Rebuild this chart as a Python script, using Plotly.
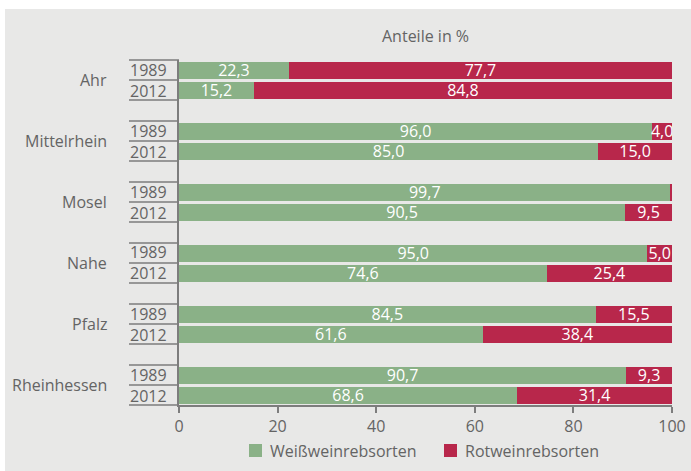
import plotly.graph_objects as go

regions = ["Ahr", "Mittelrhein", "Mosel", "Nahe", "Pfalz", "Rheinhessen"]
years = ["1989", "2012"]
weiss_1989 = [22.3, 96.0, 99.7, 95.0, 84.5, 90.7]
weiss_2012 = [15.2, 85.0, 90.5, 74.6, 61.6, 68.6]
rot_1989 = [77.7, 4.0, 0.3, 5.0, 15.5, 9.3]
rot_2012 = [84.8, 15.0, 9.5, 25.4, 38.4, 31.4]
series_names = ["Weißweinrebsorten", "Rotweinrebsorten"]
x_ticks = [0, 20, 40, 60, 80, 100]

GREEN = "#8ab187"
RED = "#b8274b"
BG = "#e8e8e7"
TXT = "#646464"
LINE = "#7d7d7d"
FONT = "Open Sans"

GROUP = 3.05
YMAX = GROUP * (len(regions) - 1) + 2

ys, w_vals, r_vals = [], [], []
for g in range(len(regions)):
    for j, (wv, rv) in enumerate([(weiss_1989[g], rot_1989[g]), (weiss_2012[g], rot_2012[g])]):
        ys.append(g * GROUP + j + 0.5)
        w_vals.append(wv)
        r_vals.append(rv)

def fmt(v):
    return ("%.1f" % v).replace(".", ",") if v >= 1 else ""

fig = go.Figure()
for name, vals, col in [(series_names[0], w_vals, GREEN), (series_names[1], r_vals, RED)]:
    fig.add_trace(go.Bar(
        name=name, y=ys, x=vals, orientation="h", width=0.85, showlegend=False,
        marker=dict(color=col, line=dict(width=0)),
        text=[fmt(v) for v in vals], textposition="inside", insidetextanchor="middle",
        textangle=0, constraintext="none",
        textfont=dict(color="white", size=16, family=FONT),
    ))

# the page body margin is set to 0 (post_script); positions below are window pixels
W, H = 691, 471
L, T = 179, 60
R, B = W - 672, H - 405
pw, ph = W - L - R, H - T - B

def px2paper_x(px):
    return (px - L) / pw

def px2paper_y(py):
    return (H - B - py) / ph

def yval2paper(v):
    return (YMAX - v) / YMAX

shapes = [dict(type="rect", xref="paper", yref="paper", layer="below",
               x0=px2paper_x(5), x1=px2paper_x(W + 10), y0=px2paper_y(H + 10), y1=px2paper_y(9),
               fillcolor=BG, line=dict(width=0))]
annotations = []
for g, reg in enumerate(regions):
    for k in range(3):
        yy = yval2paper(g * GROUP + k)
        shapes.append(dict(type="line", xref="paper", yref="paper",
                           x0=px2paper_x(129), x1=0, y0=yy, y1=yy,
                           line=dict(color=LINE, width=1.5)))
    annotations.append(dict(xref="paper", yref="paper", x=px2paper_x(169),
                            y=yval2paper(g * GROUP + 1), text="<br>".join(years),
                            showarrow=False, xanchor="right", yanchor="middle", align="right",
                            font=dict(size=16, color=TXT, family=FONT)))
    annotations.append(dict(xref="paper", yref="paper", x=px2paper_x(109),
                            y=yval2paper(g * GROUP + 1), text=reg, showarrow=False,
                            xanchor="right", yanchor="middle",
                            font=dict(size=16, color=TXT, family=FONT)))
annotations.append(dict(xref="x", yref="paper", x=50, y=px2paper_y(36), text="Anteile in %",
                        showarrow=False, xanchor="center", yanchor="middle",
                        font=dict(size=16, color=TXT, family=FONT)))

# legend (drawn as squares + labels)
for name, col, sq_x in [(series_names[0], GREEN, 249), (series_names[1], RED, 444)]:
    shapes.append(dict(type="rect", xref="paper", yref="paper",
                       x0=px2paper_x(sq_x), x1=px2paper_x(sq_x + 13),
                       y0=px2paper_y(457), y1=px2paper_y(444),
                       fillcolor=col, line=dict(width=0)))
    annotations.append(dict(xref="paper", yref="paper", x=px2paper_x(sq_x + 19),
                            y=px2paper_y(450.5), text=name, showarrow=False,
                            xanchor="left", yanchor="middle",
                            font=dict(size=16, color=TXT, family=FONT)))

fig.update_layout(
    width=W, height=H, barmode="stack",
    margin=dict(l=L, r=R, t=T, b=B, pad=0, autoexpand=False),
    paper_bgcolor="white", plot_bgcolor=BG,
    font=dict(family=FONT, size=16, color=TXT),
    showlegend=False,
    shapes=shapes, annotations=annotations,
    xaxis=dict(range=[0, 100], tickvals=x_ticks, ticktext=[str(t) for t in x_ticks],
               showgrid=False, zeroline=False, showline=True, linecolor=LINE, linewidth=1.5,
               ticks="outside", ticklen=6, tickcolor=LINE, tickwidth=1.5, automargin=False,
               ticklabeloverflow="allow",
               tickfont=dict(size=16, color=TXT, family=FONT)),
    yaxis=dict(range=[YMAX, 0], showgrid=False, zeroline=False, showline=True, automargin=False,
               linecolor=LINE, linewidth=1.5, showticklabels=False, ticks=""),
)

fig.write_html("out.html", config={"displayModeBar": False},
               post_script="document.body.style.margin='0';")
